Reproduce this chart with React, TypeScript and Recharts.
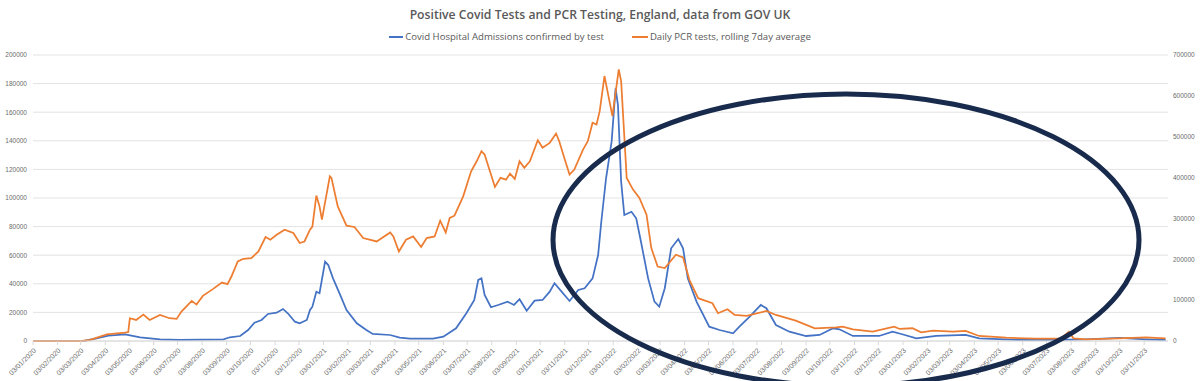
import { LineChart, Line, XAxis, YAxis, CartesianGrid } from "recharts";

const BLUE = "#4472c4";
const ORANGE = "#ed7d31";
const GREY = "#595959";

// day offsets from 03/01/2020
const caseDays = [
  0, 63, 80, 95, 116, 135, 160, 185, 240, 248, 261, 271, 279, 288, 296, 307, 315, 321, 330, 336,
  345, 349, 352, 357, 361, 368, 372, 378, 387, 395, 408, 420, 428, 450, 462, 475, 504, 517, 533, 546,
  556, 561, 565, 569, 577, 586, 598, 606, 613, 622, 632, 642, 651, 657, 666, 676, 687, 695, 705, 712,
  716, 722, 729, 734, 737, 741, 745, 754, 760, 766, 775, 783, 789, 796, 804, 813, 819, 825, 836, 852,
  865, 882, 890, 903, 917, 924, 936, 953, 974, 991, 1008, 1016, 1033, 1066, 1083, 1094, 1113, 1138, 1175, 1192,
  1243, 1285, 1327, 1369, 1402, 1427,
];
const cases = [
  0, 0, 1900, 3700, 4700, 2600, 1200, 700, 1200, 2600, 3500, 7700, 12800, 14700, 18900, 19800, 22400, 19400, 13500, 12400,
  14700, 21700, 24000, 34500, 33400, 55500, 53100, 43800, 32200, 21700, 12400, 7700, 4900, 4200, 2300, 1600, 1600, 3000, 8900, 19400,
  28700, 42700, 43800, 32200, 23600, 25200, 27500, 25200, 29200, 21200, 28200, 28700, 34500, 40400, 34500, 28000, 35700, 36900, 43800, 60100,
  83400, 113800, 139400, 176700, 165000, 111400, 88100, 90400, 85800, 69400, 43800, 27500, 24000, 36900, 64800, 71300, 64800, 43800, 27500, 10000,
  7700, 5400, 10000, 17000, 25200, 22900, 11200, 6500, 3500, 4200, 8900, 8200, 3500, 3500, 6500, 4900, 1900, 3500, 4200, 1900,
  700, 700, 1200, 2100, 1200, 700,
];

const pcrDays = [
  0, 59, 72, 93, 116, 120, 122, 130, 139, 147, 160, 172, 181, 187, 200, 206, 214, 227, 238, 245,
  250, 258, 265, 275, 284, 293, 299, 307, 317, 328, 336, 342, 349, 352, 357, 361, 364, 374, 376, 384,
  395, 405, 416, 433, 450, 454, 461, 470, 479, 489, 496, 506, 513, 520, 525, 531, 542, 552, 559, 565,
  569, 575, 582, 589, 596, 601, 607, 613, 619, 626, 636, 642, 651, 659, 663, 670, 676, 682, 693, 699,
  705, 710, 714, 720, 730, 738, 741, 748, 756, 764, 773, 779, 787, 796, 810, 819, 827, 838, 844, 856,
  863, 875, 884, 899, 924, 936, 961, 985, 1012, 1020, 1033, 1058, 1085, 1092, 1108, 1119, 1134, 1159, 1175, 1192,
  1226, 1264, 1293, 1299, 1305, 1311, 1327, 1369, 1402, 1427,
];
const pcrTests = [
  0, 0, 3000, 16400, 20400, 22000, 55700, 51500, 64500, 51500, 63800, 55700, 54000, 71900, 98100, 89100, 110400, 127600, 143000, 139100,
  157800, 194600, 201200, 202800, 219200, 254400, 247800, 260100, 272400, 264200, 239700, 243600, 272400, 280000, 356000, 329500, 296900, 403100, 399200, 329500,
  282200, 279000, 252000, 243600, 265700, 255900, 219100, 247800, 255900, 229900, 252000, 255900, 294400, 265700, 301100, 306700, 354100, 415400, 439900, 464500,
  456400, 419600, 377100, 399200, 395000, 409700, 396700, 439900, 423800, 439900, 491400, 472800, 485000, 507900, 489000, 444100, 407300, 419600, 468600, 489000,
  534200, 530000, 562600, 648500, 550300, 665000, 636200, 399200, 370500, 350100, 309200, 227500, 182300, 178400, 211000, 204400, 149700, 104800, 100600, 92500,
  68000, 77800, 63800, 61300, 73600, 63800, 49800, 31200, 33600, 35100, 28700, 22800, 35100, 29400, 31200, 21300, 25300, 22800, 24500, 12300,
  8100, 5600, 5600, 12300, 22800, 6600, 4200, 6600, 9100, 6600,
];

const tickLabels = [
  "03/01/2020", "03/02/2020", "03/03/2020", "03/04/2020", "03/05/2020", "03/06/2020",
  "03/07/2020", "03/08/2020", "03/09/2020", "03/10/2020", "03/11/2020", "03/12/2020",
  "03/01/2021", "03/02/2021", "03/03/2021", "03/04/2021", "03/05/2021", "03/06/2021",
  "03/07/2021", "03/08/2021", "03/09/2021", "03/10/2021", "03/11/2021", "03/12/2021",
  "03/01/2022", "03/02/2022", "03/03/2022", "03/04/2022", "03/05/2022", "03/06/2022",
  "03/07/2022", "03/08/2022", "03/09/2022", "03/10/2022", "03/11/2022", "03/12/2022",
  "03/01/2023", "03/02/2023", "03/03/2023", "03/04/2023", "03/05/2023", "03/06/2023",
  "03/07/2023", "03/08/2023", "03/09/2023", "03/10/2023", "03/11/2023",
];
const leftTicks = [0, 20000, 40000, 60000, 80000, 100000, 120000, 140000, 160000, 180000, 200000];
const rightTicks = [0, 100000, 200000, 300000, 400000, 500000, 600000, 700000];

const START = Date.UTC(2020, 0, 3);
const toDay = (s: string) => {
  const [d, m, y] = s.split("/").map(Number);
  return Math.round((Date.UTC(y, m - 1, d) - START) / 86400000);
};
const tickDays = tickLabels.map(toDay);
const labelFor = new Map(tickDays.map((d, i) => [d, tickLabels[i]]));

const caseData = caseDays.map((day, i) => ({ day, value: cases[i] }));
const pcrData = pcrDays.map((day, i) => ({ day, value: pcrTests[i] }));

function DateTick(props: any) {
  const { x, y, payload } = props;
  const ax = x + 3.5;
  const ay = y + 4;
  return (
    <text
      x={ax}
      y={ay}
      textAnchor="end"
      fontSize={7}
      fontFamily="Liberation Sans, Arial, sans-serif"
      fill="#6b6b6b"
      transform={`rotate(-45, ${ax}, ${ay})`}
    >
      {labelFor.get(payload.value) ?? ""}
    </text>
  );
}

const yTick = { fontSize: 6.5, fill: "#6b6b6b", fontFamily: "Liberation Sans, Arial, sans-serif" };

export default function App() {
  return (
    <div
      style={{
        position: "fixed",
        left: 0,
        top: 0,
        width: 1200,
        height: 381,
        background: "#fff",
        overflow: "hidden",
        fontFamily: "'Open Sans', sans-serif",
      }}
    >
      <div
        style={{
          position: "absolute",
          top: 6,
          left: 0,
          width: 1200,
          textAlign: "center",
          fontSize: 12.2,
          fontWeight: 600,
          color: GREY,
        }}
      >
        Positive Covid Tests and PCR Testing, England, data from GOV UK
      </div>
      <div
        style={{
          position: "absolute",
          top: 30,
          left: 0,
          width: 1200,
          display: "flex",
          justifyContent: "center",
          alignItems: "center",
          fontSize: 9.6,
          color: GREY,
        }}
      >
        <span style={{ display: "inline-block", width: 14, height: 2, background: BLUE, marginRight: 2 }} />
        <span>Covid Hospital Admissions confirmed by test</span>
        <span style={{ display: "inline-block", width: 16, height: 2, background: ORANGE, marginLeft: 28, marginRight: 2 }} />
        <span>Daily PCR tests, rolling 7day average</span>
      </div>
      <LineChart width={1200} height={381} margin={{ top: 55, right: 0, bottom: 0, left: 0 }}>
        <CartesianGrid yAxisId="left" vertical={false} stroke="#e3e3e3" />
        <XAxis
          dataKey="day"
          type="number"
          domain={[0, 1430]}
          ticks={tickDays}
          interval={0}
          height={40}
          stroke="#d9d9d9"
          tickSize={4}
          tickMargin={2}
          tick={<DateTick />}
          allowDataOverflow
        />
        <YAxis
          yAxisId="left"
          orientation="left"
          width={33}
          domain={[0, 200000]}
          ticks={leftTicks}
          axisLine={false}
          tickLine={false}
          tickSize={6}
          tickMargin={0}
          tick={yTick}
        />
        <YAxis
          yAxisId="right"
          orientation="right"
          width={32}
          domain={[0, 700000]}
          ticks={rightTicks}
          axisLine={false}
          tickLine={false}
          tickSize={5}
          tickMargin={0}
          tick={{ ...yTick, textAnchor: "start" }}
        />
        <Line
          yAxisId="left"
          data={caseData}
          dataKey="value"
          type="linear"
          stroke={BLUE}
          strokeWidth={1.75}
          dot={false}
          isAnimationActive={false}
        />
        <Line
          yAxisId="right"
          data={pcrData}
          dataKey="value"
          type="linear"
          stroke={ORANGE}
          strokeWidth={1.75}
          dot={false}
          isAnimationActive={false}
        />
      </LineChart>
      <svg
        width={1200}
        height={381}
        style={{ position: "absolute", left: 0, top: 0, pointerEvents: "none" }}
      >
        <ellipse cx={846} cy={240} rx={293} ry={146} fill="none" stroke="#182b4d" strokeWidth={5} />
      </svg>
    </div>
  );
}
